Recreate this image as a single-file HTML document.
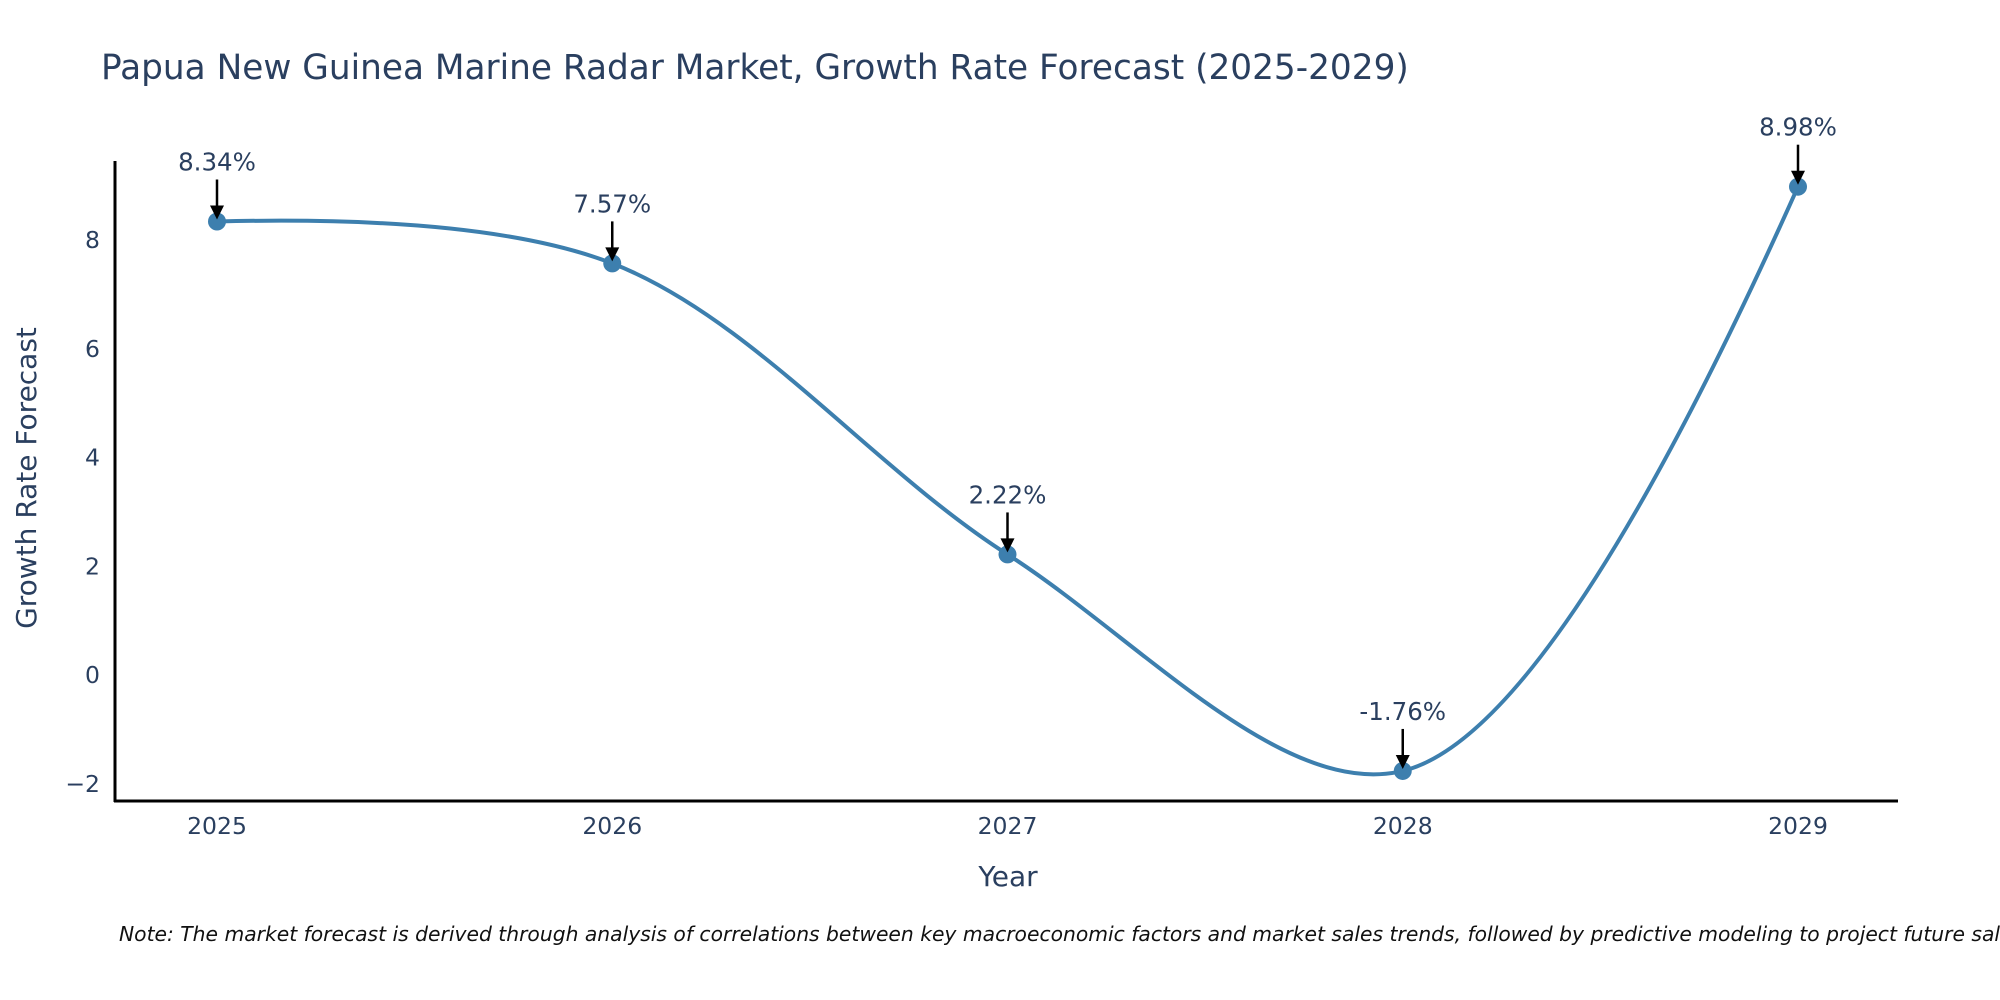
<!DOCTYPE html>
<html><head><meta charset="utf-8"><style>
html,body{margin:0;padding:0;background:#fff;width:2000px;height:1000px;overflow:hidden}
svg{display:block}
text{font-family:"DejaVu Sans","Liberation Sans",sans-serif;fill:#2a3f5f}
</style></head><body>
<svg id="chart" width="2000" height="1000" viewBox="0 0 2000 1000" xmlns="http://www.w3.org/2000/svg">
<text x="101" y="79" font-size="34.3">Papua New Guinea Marine Radar Market, Growth Rate Forecast (2025-2029)</text>
<g id="yticks"></g><g id="xticks"></g>
<line x1="115" y1="161" x2="115" y2="802" stroke="#000" stroke-width="3"/>
<line x1="114" y1="801" x2="1898" y2="801" stroke="#000" stroke-width="3"/>
<text transform="translate(36,478) rotate(-90)" text-anchor="middle" font-size="28">Growth Rate Forecast</text>
<text x="1008" y="886" text-anchor="middle" font-size="28">Year</text>
<g id="series"></g>
<g id="annots"></g>
<text x="119" y="941" font-size="20.3" font-style="italic" style="fill:#111">Note: The market forecast is derived through analysis of correlations between key macroeconomic factors and market sales trends, followed by predictive modeling to project future sales.</text>
</svg>
<script>
const categories = ["2025","2026","2027","2028","2029"];
const values = [8.34, 7.57, 2.22, -1.76, 8.98];
const labels = ["8.34%","7.57%","2.22%","-1.76%","8.98%"];
const yTicks = [-2, 0, 2, 4, 6, 8];
const NS = "http://www.w3.org/2000/svg";
function xs(i){ return 217 + i * 395.25; }
function ys(v){ return 675.2 - v * 54.4; }
function mk(tag, attrs, parent){ const e=document.createElementNS(NS,tag); for(const k in attrs) e.setAttribute(k,attrs[k]); parent.appendChild(e); return e; }
const yt=document.getElementById('yticks');
yTicks.forEach(t=>{
  const e=mk('text',{x:100,y:ys(t)+8,'text-anchor':'end','font-size':23.5},yt);
  
  
  e.textContent = t<0 ? '\u2212'+Math.abs(t) : String(t);
});
const xt=document.getElementById('xticks');
categories.forEach((c,i)=>{
  const e=mk('text',{x:xs(i),y:834,'text-anchor':'middle','font-size':23.5},xt);
  
  
  e.textContent=c;
});
const pts = values.map((v,i)=>[xs(i),ys(v)]);
function tangent(p,t,n,s){
  const d1x=p[0]-t[0], d1y=p[1]-t[1], d2x=n[0]-t[0], d2y=n[1]-t[1];
  const d1a=Math.pow(d1x*d1x+d1y*d1y,0.25), d2a=Math.pow(d2x*d2x+d2y*d2y,0.25);
  const nx=(d2a*d2a*d1x-d1a*d1a*d2x)*s, ny=(d2a*d2a*d1y-d1a*d1a*d2y)*s;
  const den1=3*d2a*(d1a+d2a), den2=3*d1a*(d1a+d2a);
  return [[t[0]+nx/den1,t[1]+ny/den1],[t[0]-nx/den2,t[1]-ny/den2]];
}
const tg=[]; for(let i=1;i<pts.length-1;i++) tg.push(tangent(pts[i-1],pts[i],pts[i+1],1));
let d='M'+pts[0]+'Q'+tg[0][0]+' '+pts[1];
for(let i=2;i<pts.length-1;i++) d+='C'+tg[i-2][1]+' '+tg[i-1][0]+' '+pts[i];
d+='Q'+tg[tg.length-1][1]+' '+pts[pts.length-1];
const sg=document.getElementById('series');
const line=mk('path',{d:d,fill:'none',stroke:'#3d7fae','stroke-width':4},sg);


const ag=document.getElementById('annots');
pts.forEach((p,i)=>{
  const c=mk('circle',{cx:p[0],cy:p[1],r:9,fill:'#3d7fae'},sg);
  
  
  const a=mk('line',{x1:p[0],y1:p[1]-42,x2:p[0],y2:p[1]-14,stroke:'#000','stroke-width':2.5},ag);
  
  
  const h=mk('polygon',{points:(p[0]-7)+','+(p[1]-16)+' '+(p[0]+7)+','+(p[1]-16)+' '+p[0]+','+(p[1]-2),fill:'#000'},ag);
  
  
  const t=mk('text',{x:p[0],y:p[1]-51,'text-anchor':'middle','font-size':24.5},ag);
  
  
  t.textContent=labels[i];
});
</script>
</body></html>
